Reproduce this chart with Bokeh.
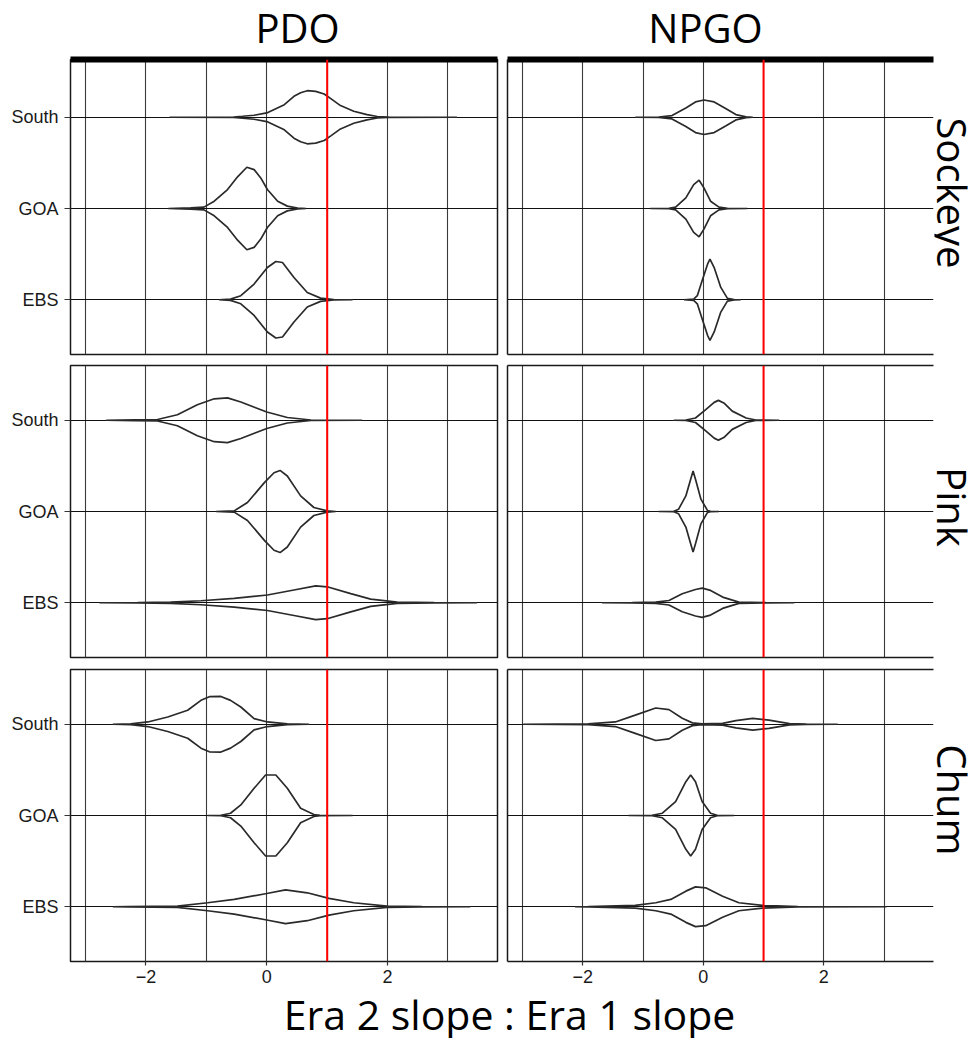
import math
from bokeh.plotting import figure
from bokeh.models import FixedTicker, Span, LinearAxis, Range1d
from bokeh.layouts import gridplot, column
from bokeh.embed import file_html
from bokeh.resources import INLINE
from bokeh.core.properties import value

# ---------------- data ----------------
INDICES = ["PDO", "NPGO"]
SPECIES = ["Sockeye", "Pink", "Chum"]
REGIONS = ["EBS", "GOA", "South"]          # y = 1, 2, 3
X_TICKS = [-2, 0, 2]
X_TICK_LABELS = ["\u22122", "0", "2"]
X_GRID = [-3, -2, -1, 0, 1, 2, 3]
REF_LINE = 1
X_LABEL = "Era 2 slope : Era 1 slope"

# violin outlines: (x values, half-widths in category units)
pdo_sockeye = {
    "South": ([-1.61, -0.55, -0.40, -0.21, 0.00, 0.29, 0.45, 0.56, 0.67, 0.81, 0.95, 1.06, 1.22, 1.44, 1.66, 1.83, 2.02, 3.15],
              [0, 0.003, 0.011, 0.022, 0.047, 0.138, 0.229, 0.269, 0.291, 0.284, 0.255, 0.204, 0.128, 0.066, 0.029, 0.008, 0.003, 0]),
    "GOA": ([-1.63, -1.26, -1.04, -0.87, -0.65, -0.48, -0.33, -0.21, -0.10, 0.01, 0.18, 0.34, 0.51, 0.65],
            [0, 0.006, 0.015, 0.08, 0.208, 0.35, 0.452, 0.426, 0.335, 0.208, 0.08, 0.026, 0.005, 0]),
    "EBS": ([-0.79, -0.60, -0.43, -0.21, 0.01, 0.15, 0.26, 0.45, 0.67, 0.89, 1.11, 1.42],
            [0, 0.007, 0.044, 0.172, 0.353, 0.419, 0.408, 0.244, 0.08, 0.018, 0.003, 0]),
}
npgo_sockeye = {
    "South": ([-1.13, -0.74, -0.52, -0.29, -0.13, 0.01, 0.18, 0.37, 0.54, 0.71, 0.82],
              [0, 0.003, 0.018, 0.102, 0.168, 0.189, 0.168, 0.095, 0.029, 0.004, 0]),
    "GOA": ([-0.88, -0.57, -0.46, -0.29, -0.16, -0.07, 0.01, 0.12, 0.26, 0.40, 0.73],
            [0, 0.003, 0.015, 0.117, 0.262, 0.31, 0.226, 0.08, 0.015, 0.003, 0]),
    "EBS": ([-0.32, -0.16, -0.10, -0.02, 0.07, 0.11, 0.18, 0.29, 0.40, 0.51, 0.62],
            [0, 0.007, 0.044, 0.208, 0.39, 0.444, 0.353, 0.135, 0.015, 0.003, 0]),
}
pdo_pink = {
    "South": ([-2.66, -2.19, -1.81, -1.48, -1.15, -0.87, -0.65, -0.43, 0.0, 0.34, 0.73, 1.58],
              [0, 0.005, 0.008, 0.06, 0.17, 0.235, 0.245, 0.2, 0.09, 0.03, 0.003, 0]),
    "GOA": ([-0.84, -0.54, -0.32, -0.04, 0.12, 0.22, 0.34, 0.56, 0.78, 1.00, 1.14],
            [0, 0.007, 0.098, 0.316, 0.425, 0.45, 0.389, 0.171, 0.044, 0.007, 0]),
    "EBS": ([-2.77, -2.14, -1.59, -1.09, -0.54, 0.01, 0.45, 0.81, 1.00, 1.39, 1.72, 2.16, 2.77, 3.48],
            [0, 0.002, 0.007, 0.022, 0.047, 0.085, 0.14, 0.185, 0.175, 0.1, 0.04, 0.007, 0.002, 0]),
}
npgo_pink = {
    "South": ([-0.49, -0.29, -0.13, 0.04, 0.18, 0.25, 0.34, 0.48, 0.71, 0.87, 1.26],
              [0, 0.003, 0.025, 0.116, 0.196, 0.218, 0.19, 0.1, 0.025, 0.003, 0]),
    "GOA": ([-0.74, -0.49, -0.41, -0.29, -0.21, -0.17, -0.13, -0.04, 0.07, 0.12, 0.26],
            [0, 0.003, 0.025, 0.171, 0.353, 0.444, 0.353, 0.135, 0.01, 0.003, 0]),
    "EBS": ([-1.68, -1.18, -0.79, -0.57, -0.35, -0.13, -0.02, 0.12, 0.32, 0.59, 1.04, 1.51],
            [0, 0.002, 0.007, 0.025, 0.098, 0.145, 0.16, 0.135, 0.062, 0.007, 0.002, 0]),
}
pdo_chum = {
    "South": ([-2.55, -2.25, -1.97, -1.64, -1.31, -1.09, -0.95, -0.76, -0.60, -0.43, -0.21, 0.01, 0.34, 0.70],
              [0, 0.004, 0.025, 0.08, 0.153, 0.262, 0.302, 0.305, 0.262, 0.189, 0.062, 0.025, 0.004, 0]),
    "GOA": ([-0.98, -0.76, -0.60, -0.43, -0.21, -0.02, 0.15, 0.34, 0.56, 0.78, 0.88, 1.42],
            [0, 0.003, 0.025, 0.116, 0.298, 0.444, 0.444, 0.298, 0.08, 0.01, 0.003, 0]),
    "EBS": ([-2.55, -2.30, -1.48, -0.98, -0.54, 0.0, 0.31, 0.67, 1.03, 1.44, 1.99, 2.57, 3.37],
            [0, 0.002, 0.007, 0.044, 0.08, 0.145, 0.185, 0.153, 0.091, 0.044, 0.007, 0.002, 0]),
}
npgo_chum = {
    "South": ([-2.99, -1.91, -1.46, -1.13, -0.79, -0.57, -0.35, -0.18, -0.02, 0.32, 0.54, 0.82, 1.09, 1.43, 1.71, 2.23],
              [0, 0.004, 0.025, 0.10, 0.178, 0.16, 0.065, 0.015, 0.004, 0.01, 0.04, 0.064, 0.045, 0.007, 0.002, 0]),
    "GOA": ([-1.24, -0.85, -0.68, -0.46, -0.29, -0.21, -0.13, -0.02, 0.12, 0.23, 0.51],
            [0, 0.003, 0.025, 0.153, 0.371, 0.444, 0.371, 0.153, 0.025, 0.003, 0]),
    "EBS": ([-2.13, -1.91, -1.13, -0.79, -0.54, -0.29, -0.13, 0.04, 0.32, 0.59, 0.98, 1.57, 3.04],
            [0, 0.002, 0.015, 0.044, 0.08, 0.171, 0.218, 0.207, 0.116, 0.044, 0.015, 0.003, 0]),
}
PANELS = [[pdo_sockeye, npgo_sockeye], [pdo_pink, npgo_pink], [pdo_chum, npgo_chum]]

# ---------------- layout / style ----------------
TITLE_FONT = "Open Sans"
TICK_FONT = "Liberation Sans"
X_START, X_END = -3.25, 3.82
COL_W = [427, 426]
COL_BORDERS = [(70, 5), (5, 1)]
LABEL_W = 40
ROW_H = [295, 292, 292]
ROW_BORDERS = [(3, 5), (6, 6), (6, 28)]
Y_ENDS = [3.6 + 3 * 3.2 / 292, 3.6, 3.6]
HEADER_H = 56
XLABEL_H = 49
TOTAL_W = sum(COL_W) + sum(a + b for a, b in COL_BORDERS) + LABEL_W
HEADER_X = [297 / TOTAL_W, 705 / TOTAL_W]
HEADER_Y = 1 - 27 / HEADER_H
ROW_LABEL_X = 18 / LABEL_W
ROW_LABEL_Y = [2.17, 2.05, 2.17]
XLABEL_X = 509 / TOTAL_W
XLABEL_Y = 25 / XLABEL_H


def blank_axis(ax, width):
    ax.ticker = FixedTicker(ticks=[])
    ax.axis_line_color = "#1a1a1a"
    ax.axis_line_width = width
    ax.major_tick_line_color = None
    ax.minor_tick_line_color = None
    ax.major_tick_out = 0
    ax.major_tick_in = 0
    ax.minor_tick_out = 0
    ax.minor_tick_in = 0
    ax.major_label_text_font_size = "0px"
    ax.major_label_standoff = 0
    ax.axis_label = None


def plain_fig(w, h):
    p = figure(frame_width=w, frame_height=h,
               min_border_left=0, min_border_right=0, min_border_top=0, min_border_bottom=0,
               x_range=Range1d(0, 1), y_range=Range1d(0, 1),
               output_backend="svg", toolbar_location=None)
    p.axis.visible = False
    p.grid.visible = False
    p.outline_line_color = None
    return p


def make_panel(r, c):
    top, bottom = ROW_BORDERS[r]
    left, right = COL_BORDERS[c]
    p = figure(frame_width=COL_W[c], frame_height=ROW_H[r],
               min_border_left=left, min_border_right=right,
               min_border_top=top, min_border_bottom=bottom,
               x_range=Range1d(X_START, X_END), y_range=Range1d(0.4, Y_ENDS[r]),
               output_backend="svg", toolbar_location=None)

    p.xgrid.ticker = FixedTicker(ticks=X_GRID)
    p.xgrid.grid_line_color = "#3a3a3a"
    p.xgrid.grid_line_width = 1.1
    p.ygrid.ticker = FixedTicker(ticks=[1, 2, 3])
    p.ygrid.grid_line_color = "#111111"
    p.ygrid.grid_line_width = 1.1

    data = PANELS[r][c]
    for i, reg in enumerate(REGIONS):
        xs, ws = data[reg]
        yc = i + 1
        px = list(xs) + list(xs)[::-1]
        py = [yc + w for w in ws] + [yc - w for w in ws][::-1]
        p.patch(px, py, fill_color=None, line_color="#2a2a2a", line_width=1.7)

    p.add_layout(Span(location=REF_LINE, dimension="height", line_color="#ff0000", line_width=2))

    yax = p.yaxis[0]
    xax = p.xaxis[0]
    if c == 0:
        p.outline_line_color = "#1a1a1a"
        p.outline_line_width = 1.5
        yax.ticker = FixedTicker(ticks=[1, 2, 3])
        yax.major_label_overrides = {i + 1: reg for i, reg in enumerate(REGIONS)}
        yax.major_label_text_font = TICK_FONT
        yax.major_label_text_font_size = "18px"
        yax.major_label_text_color = "#1a1a1a"
        yax.axis_line_color = None
        yax.major_tick_line_color = "#333333"
        yax.major_tick_line_width = 1.2
        yax.major_tick_out = 6
        yax.major_tick_in = 0
        yax.minor_tick_line_color = None
        yax.major_label_standoff = 6
    else:
        p.outline_line_color = None
        blank_axis(yax, 1.5)

    if r == 2:
        xax.ticker = FixedTicker(ticks=X_TICKS)
        xax.major_label_overrides = {t: l for t, l in zip(X_TICKS, X_TICK_LABELS)}
        xax.major_label_text_font = TICK_FONT
        xax.major_label_text_font_size = "18px"
        xax.major_label_text_color = "#1a1a1a"
        xax.major_tick_line_color = "#333333"
        xax.major_tick_line_width = 1.2
        xax.major_tick_out = 4
        xax.major_tick_in = 0
        xax.minor_tick_line_color = None
        xax.major_label_standoff = 4
        if c == 0:
            xax.axis_line_color = None
        else:
            xax.axis_line_color = "#1a1a1a"
            xax.axis_line_width = 1.5
    else:
        if c == 0:
            xax.visible = False
        else:
            blank_axis(xax, 1.5)

    if r == 0:
        top_ax = LinearAxis()
        blank_axis(top_ax, 6)
        top_ax.axis_line_color = "#000000"
        p.add_layout(top_ax, "above")
    elif c == 1:
        top_ax = LinearAxis()
        blank_axis(top_ax, 1.5)
        p.add_layout(top_ax, "above")
    return p


def make_row_label(r):
    top, bottom = ROW_BORDERS[r]
    p = figure(frame_width=LABEL_W, frame_height=ROW_H[r],
               min_border_left=0, min_border_right=0,
               min_border_top=top, min_border_bottom=bottom,
               x_range=Range1d(0, 1), y_range=Range1d(0.4, Y_ENDS[r]),
               output_backend="svg", toolbar_location=None)
    p.axis.visible = False
    p.grid.visible = False
    p.outline_line_color = None
    p.text(x=[ROW_LABEL_X], y=[ROW_LABEL_Y[r]], text=[SPECIES[r]], angle=-math.pi / 2,
           text_align="center", text_baseline="middle",
           text_font=value(TITLE_FONT), text_font_size="40px", text_color="#000000")
    return p


header = plain_fig(TOTAL_W, HEADER_H)
header.text(x=HEADER_X, y=[HEADER_Y, HEADER_Y], text=INDICES, text_align="center",
            text_baseline="middle", text_font=value(TITLE_FONT), text_font_size="40px",
            text_color="#000000")

rows = []
for r in range(3):
    rows.append([make_panel(r, 0), make_panel(r, 1), make_row_label(r)])
grid = gridplot(rows, toolbar_location=None)

xl = plain_fig(TOTAL_W, XLABEL_H)
xl.text(x=[XLABEL_X], y=[XLABEL_Y], text=[X_LABEL], text_align="center", text_baseline="middle",
        text_font=value(TITLE_FONT), text_font_size="41px", text_color="#000000")

layout = column(header, grid, xl)
open("out.html", "w").write(file_html(layout, INLINE))
